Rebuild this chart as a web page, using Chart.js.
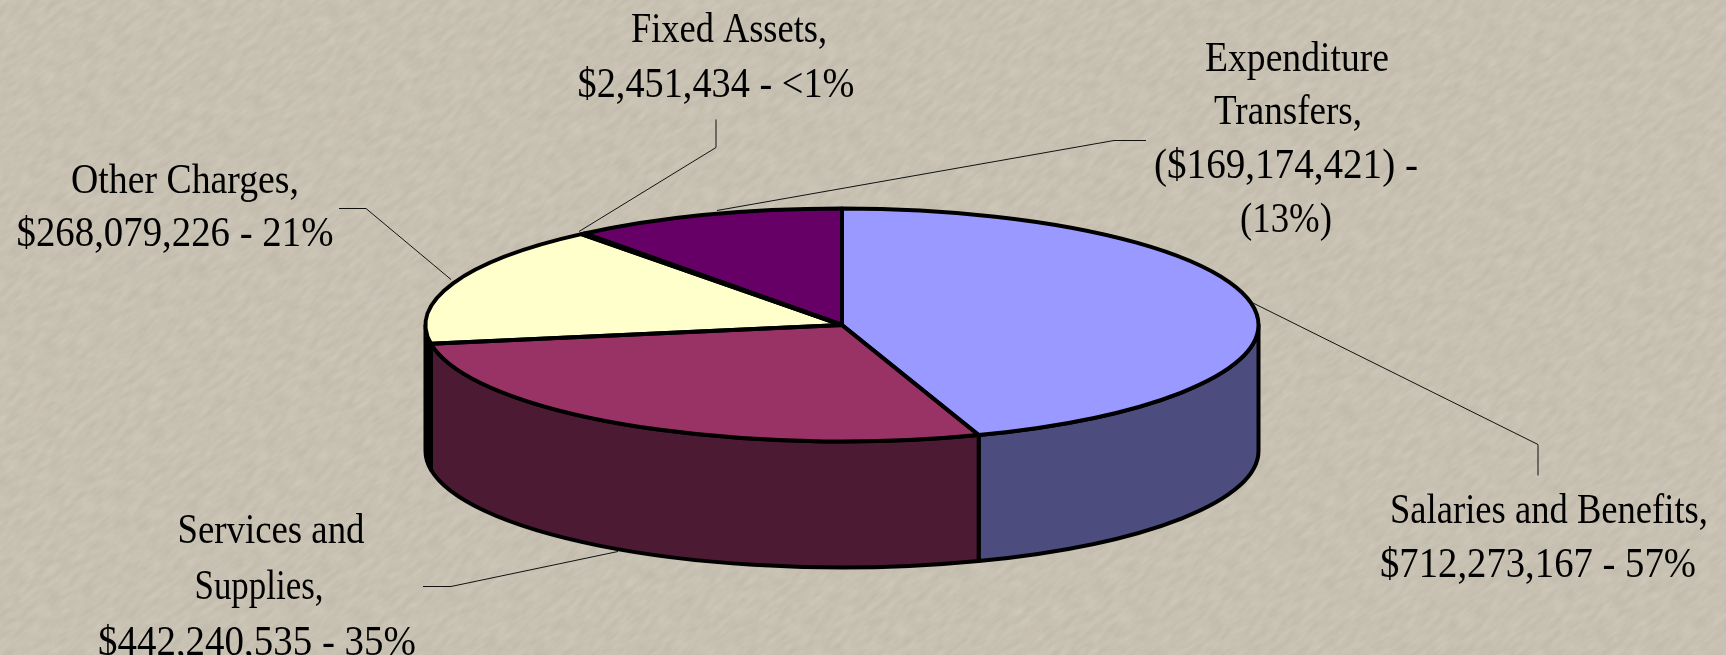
<!DOCTYPE html>
<html><head><meta charset="utf-8">
<style>
html,body{margin:0;padding:0;width:1726px;height:655px;overflow:hidden;background:#c8c2b3}
#tex{position:absolute;left:0;top:0}
#c{position:absolute;left:0;top:0}
</style>
<script src="https://cdn.jsdelivr.net/npm/chart.js@4/dist/chart.umd.min.js"></script>
</head><body>
<svg id="tex" width="1726" height="655" xmlns="http://www.w3.org/2000/svg">
<defs><filter id="paper" x="0" y="0" width="100%" height="100%" color-interpolation-filters="sRGB">
<feTurbulence type="fractalNoise" baseFrequency="0.06 0.18" numOctaves="3" seed="4"/>
<feColorMatrix type="matrix" values="0.075 0 0 0 0.745  0.075 0 0 0 0.719  0.075 0 0 0 0.662  0 0 0 0 1"/>
</filter></defs>
<g transform="rotate(-38 863 327)"><rect x="-300" y="-800" width="2400" height="2300" filter="url(#paper)"/></g>
</svg>
<canvas id="c" width="1726" height="655"></canvas>
<script>
// data: absolute sizes drive the slices, as in the original chart
const categories = ['Salaries and Benefits','Services and Supplies','Other Charges','Fixed Assets','Expenditure Transfers'];
const amounts = [712273167, 442240535, 268079226, 2451434, 169174421];
const topColors = ['#9999ff','#993366','#ffffcc','#660066','#660066'];
const sideColors = ['#4c4c7f','#4c1a33','#000000','#330033','#330033'];
const labelLines = [
  ['Salaries and Benefits,','$712,273,167 - 57%'],
  ['Services and','Supplies,','$442,240,535 - 35%'],
  ['Other Charges,','$268,079,226 - 21%'],
  ['Fixed Assets,','$2,451,434 - <1%'],
  ['Expenditure','Transfers,','($169,174,421) -','(13%)']
];
// style and layout
const labelCenters = [[1549,1538],[271,259,257],[185,175],[729,716],[1297,1288,1286,1286]];
const labelBaselines = [[523,577],[543,599,655],[193,246],[42,97],[71,124,178,232]];
const labelWidths = [[318,316],[187,129,318],[228,317],[196,277],[184,148,264,92]];
const leaders = [
  [[1252,302],[1538,444],[1538,475]],
  [[618,551],[451,586],[423,586]],
  [[451,279],[366,208],[339,208]],
  [[579,231],[716,147],[716,119]],
  [[717,210],[1114,140],[1146,140]]
];
const RX = 416.5, RY = 116.5, DEPTH = 126, EDGE = 4;

function ellipseFit(arc){ return {sx: RX/arc.outerRadius, sy: RY/arc.outerRadius}; }

const pie3d = {
  id:'pie3d',
  beforeDatasetsDraw(chart){
    const ctx = chart.ctx, arcs = chart.getDatasetMeta(0).data;
    const cx = arcs[0].x, cy = arcs[0].y;
    // side wall
    arcs.forEach((a,i)=>{
      const a0 = Math.max(a.startAngle,0), a1 = Math.min(a.endAngle,Math.PI);
      if(a1<=a0) return;
      ctx.beginPath();
      ctx.ellipse(cx,cy,RX,RY,0,a0,a1);
      ctx.ellipse(cx,cy+DEPTH,RX,RY,0,a1,a0,true);
      ctx.closePath();
      ctx.fillStyle = sideColors[i];
      ctx.fill();
      ctx.lineWidth = EDGE; ctx.strokeStyle='#000'; ctx.lineJoin='round';
      ctx.stroke();
    });
    // the top face goes through Chart.js' own arc elements, flattened
    const f = ellipseFit(arcs[0]);
    ctx.save();
    ctx.translate(cx,cy); ctx.scale(f.sx,f.sy); ctx.translate(-cx,-cy);
  },
  afterDatasetsDraw(chart){
    const ctx = chart.ctx, arcs = chart.getDatasetMeta(0).data;
    ctx.restore();
    const cx = arcs[0].x, cy = arcs[0].y;
    // uniform-width outlines on the top face
    arcs.forEach(a=>{
      ctx.beginPath();
      ctx.moveTo(cx,cy);
      ctx.ellipse(cx,cy,RX,RY,0,a.startAngle,a.endAngle);
      ctx.closePath();
      ctx.lineWidth = EDGE; ctx.strokeStyle='#000'; ctx.lineJoin='round';
      ctx.stroke();
    });
    // leader lines
    ctx.lineWidth = 1; ctx.strokeStyle = '#111';
    leaders.forEach(l=>{
      ctx.beginPath();
      l.forEach((p,i)=> i ? ctx.lineTo(p[0],p[1]+.5) : ctx.moveTo(p[0],p[1]+.5));
      ctx.stroke();
    });
    // labels: tall, slightly condensed serif fitted to the original line widths
    ctx.fillStyle='#000'; ctx.textAlign='center'; ctx.textBaseline='alphabetic';
    ctx.font = '42px "Liberation Serif", serif';
    labelLines.forEach((lines,i)=> lines.forEach((t,j)=>{
      const k = labelWidths[i][j]/ctx.measureText(t).width;
      ctx.save();
      ctx.translate(labelCenters[i][j],labelBaselines[i][j]);
      ctx.scale(k,1);
      ctx.fillText(t,0,0);
      ctx.restore();
    }));
  }
};

new Chart(document.getElementById('c'),{
  type:'pie',
  data:{labels:categories,datasets:[{data:amounts,backgroundColor:topColors,borderWidth:0,clip:false}]},
  options:{
    responsive:false,animation:false,
    layout:{padding:{left:0,right:42,top:0,bottom:5}},
    plugins:{legend:{display:false},tooltip:{enabled:false}}
  },
  plugins:[pie3d]
});
</script>
</body></html>
